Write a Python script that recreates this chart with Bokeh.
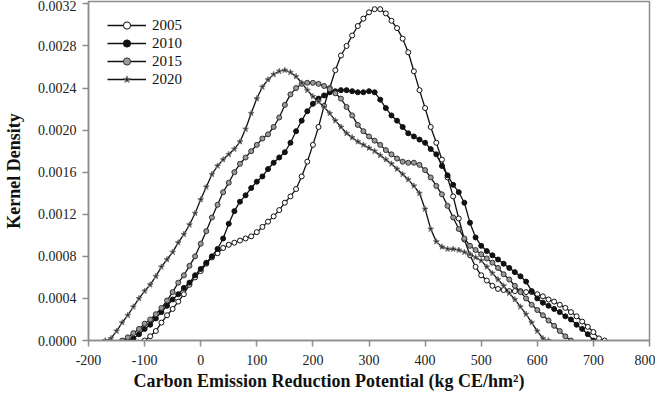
from bokeh.plotting import figure
from bokeh.models import (Range1d, FixedTicker, PrintfTickFormatter, Legend,
                          LegendItem, Title)
from bokeh.embed import file_html
from bokeh.resources import INLINE

SERIF = "Liberation Serif"

# ---------------- data ----------------
x_ticks = [-200, -100, 0, 100, 200, 300, 400, 500, 600, 700, 800]
y_ticks = [0.0, 0.0004, 0.0008, 0.0012, 0.0016, 0.0020, 0.0024, 0.0028, 0.0032]

x_2005 = list(range(-100, 721, 10))
d_2005 = [0.00000, 0.00004, 0.00009, 0.00017, 0.00024, 0.00030, 0.00037, 0.00044, 0.00053, 0.00060,
          0.00066, 0.00073, 0.00079, 0.00083, 0.00088, 0.00091, 0.00093, 0.00095, 0.00097, 0.00099,
          0.00103, 0.00108, 0.00113, 0.00118, 0.00124, 0.00131, 0.00137, 0.00144, 0.00156, 0.00170,
          0.00186, 0.00203, 0.00223, 0.00240, 0.00257, 0.00271, 0.00280, 0.00290, 0.00299, 0.00306,
          0.00312, 0.00315, 0.00315, 0.00311, 0.00304, 0.00297, 0.00287, 0.00274, 0.00256, 0.00238,
          0.00221, 0.00203, 0.00188, 0.00172, 0.00155, 0.00137, 0.00116, 0.00096, 0.00081, 0.00070,
          0.00062, 0.00057, 0.00052, 0.00049, 0.00048, 0.00047, 0.00047, 0.00047, 0.00046, 0.00046,
          0.00044, 0.00042, 0.00039, 0.00037, 0.00034, 0.00031, 0.00027, 0.00023, 0.00018, 0.00013,
          0.00008, 0.00002, 0.00000]

x_2010 = list(range(-130, 701, 10))
d_2010 = [0.00000, 0.00002, 0.00006, 0.00011, 0.00015, 0.00021, 0.00027, 0.00033, 0.00039, 0.00044,
          0.00050, 0.00055, 0.00062, 0.00068, 0.00074, 0.00080, 0.00087, 0.00097, 0.00111, 0.00123,
          0.00132, 0.00138, 0.00145, 0.00151, 0.00156, 0.00163, 0.00169, 0.00174, 0.00179, 0.00188,
          0.00199, 0.00209, 0.00218, 0.00225, 0.00230, 0.00233, 0.00236, 0.00237, 0.00238, 0.00238,
          0.00237, 0.00236, 0.00236, 0.00237, 0.00236, 0.00229, 0.00221, 0.00214, 0.00209, 0.00203,
          0.00197, 0.00194, 0.00191, 0.00188, 0.00182, 0.00177, 0.00166, 0.00157, 0.00148, 0.00141,
          0.00131, 0.00112, 0.00098, 0.00090, 0.00085, 0.00081, 0.00077, 0.00073, 0.00069, 0.00065,
          0.00061, 0.00056, 0.00047, 0.00040, 0.00036, 0.00033, 0.00030, 0.00027, 0.00023, 0.00020,
          0.00015, 0.00011, 0.00006, 0.00000]

x_2015 = list(range(-140, 661, 10))
d_2015 = [0.00000, 0.00003, 0.00007, 0.00011, 0.00016, 0.00020, 0.00025, 0.00031, 0.00038, 0.00046,
          0.00055, 0.00062, 0.00071, 0.00080, 0.00092, 0.00104, 0.00117, 0.00129, 0.00141, 0.00150,
          0.00160, 0.00168, 0.00174, 0.00180, 0.00186, 0.00192, 0.00196, 0.00203, 0.00212, 0.00224,
          0.00234, 0.00240, 0.00244, 0.00245, 0.00245, 0.00244, 0.00242, 0.00239, 0.00235, 0.00230,
          0.00222, 0.00214, 0.00205, 0.00199, 0.00194, 0.00190, 0.00186, 0.00181, 0.00177, 0.00173,
          0.00170, 0.00169, 0.00169, 0.00167, 0.00162, 0.00155, 0.00147, 0.00139, 0.00128, 0.00117,
          0.00106, 0.00097, 0.00090, 0.00086, 0.00082, 0.00078, 0.00074, 0.00069, 0.00063, 0.00058,
          0.00052, 0.00046, 0.00040, 0.00034, 0.00029, 0.00024, 0.00019, 0.00014, 0.00009, 0.00004,
          0.00000]

x_2020 = list(range(-170, 621, 10))
d_2020 = [0.00000, 0.00002, 0.00009, 0.00017, 0.00024, 0.00032, 0.00040, 0.00047, 0.00053, 0.00061,
          0.00070, 0.00077, 0.00084, 0.00093, 0.00101, 0.00110, 0.00121, 0.00134, 0.00146, 0.00158,
          0.00166, 0.00172, 0.00177, 0.00182, 0.00189, 0.00201, 0.00216, 0.00230, 0.00241, 0.00248,
          0.00253, 0.00256, 0.00257, 0.00255, 0.00251, 0.00245, 0.00238, 0.00232, 0.00227, 0.00222,
          0.00216, 0.00209, 0.00203, 0.00197, 0.00193, 0.00189, 0.00186, 0.00183, 0.00180, 0.00176,
          0.00172, 0.00168, 0.00163, 0.00158, 0.00153, 0.00147, 0.00140, 0.00125, 0.00106, 0.00094,
          0.00089, 0.00087, 0.00087, 0.00086, 0.00084, 0.00082, 0.00079, 0.00076, 0.00070, 0.00064,
          0.00058, 0.00052, 0.00045, 0.00039, 0.00032, 0.00025, 0.00017, 0.00009, 0.00002, 0.00000]

series = [
    ("2005", x_2005, d_2005, dict(marker="circle", size=5, fill_color="white", line_color="#111111")),
    ("2010", x_2010, d_2010, dict(marker="circle", size=5, fill_color="#111111", line_color="#111111")),
    ("2015", x_2015, d_2015, dict(marker="circle", size=5, fill_color="#9a9a9a", line_color="#333333")),
    ("2020", x_2020, d_2020, dict(marker="star", size=6, fill_color="#222222", line_color="#777777")),
]

# ---------------- figure ----------------
p = figure(width=655, height=394, output_backend="svg", toolbar_location=None,
           x_range=Range1d(-200, 800), y_range=Range1d(0, 0.003223),
           min_border_left=84, min_border_right=6, min_border_top=1, min_border_bottom=54)

p.xgrid.visible = False
p.ygrid.visible = False
p.outline_line_color = "#8c8c8c"
p.outline_line_width = 1.5
p.background_fill_color = "white"
p.border_fill_color = "white"

for ax in (p.xaxis[0], p.yaxis[0]):
    ax.axis_line_color = "#8c8c8c"
    ax.axis_line_width = 1.5
    ax.major_tick_line_color = "#8c8c8c"
    ax.major_tick_line_width = 1.5
    ax.major_tick_out = 6
    ax.major_tick_in = 0
    ax.minor_tick_line_color = None
    ax.major_label_text_font = SERIF
    ax.major_label_text_font_size = "14px"
    ax.major_label_text_color = "#222222"

p.xaxis.major_label_standoff = 8
p.yaxis.major_label_standoff = 6

p.xaxis.ticker = FixedTicker(ticks=x_ticks)
p.yaxis.ticker = FixedTicker(ticks=y_ticks)
p.xaxis.formatter = PrintfTickFormatter(format="%d")
p.yaxis.formatter = PrintfTickFormatter(format="%.4f")

p.yaxis.axis_label = "Kernel Density"
p.yaxis.axis_label_text_font = SERIF
p.yaxis.axis_label_text_font_style = "bold"
p.yaxis.axis_label_text_font_size = "18px"
p.yaxis.axis_label_text_color = "#111111"
p.yaxis.axis_label_standoff = 11

xt = Title(text="Carbon Emission Reduction Potential (kg CE/hm²)", align="left", offset=45,
           text_font=SERIF, text_font_style="bold", text_font_size="18px",
           text_color="#111111")
if "standoff" in Title.properties():
    xt.standoff = 2
p.add_layout(xt, "below")

items = []
for name, xs, ys, mk in series:
    lr = p.line(xs, ys, line_color="#111111", line_width=1.3)
    sr = p.scatter(xs, ys, line_width=1, **mk)
    items.append(LegendItem(label=name, renderers=[lr, sr]))

legend = Legend(items=items, location=(19, 252), orientation="vertical",
                glyph_width=39, glyph_height=18, label_height=18, spacing=0,
                padding=0, margin=0, label_standoff=6,
                label_text_font=SERIF, label_text_font_size="15px",
                label_text_color="#111111",
                border_line_color=None, background_fill_alpha=0)
p.add_layout(legend)

open("out.html", "w").write(file_html(p, INLINE))
